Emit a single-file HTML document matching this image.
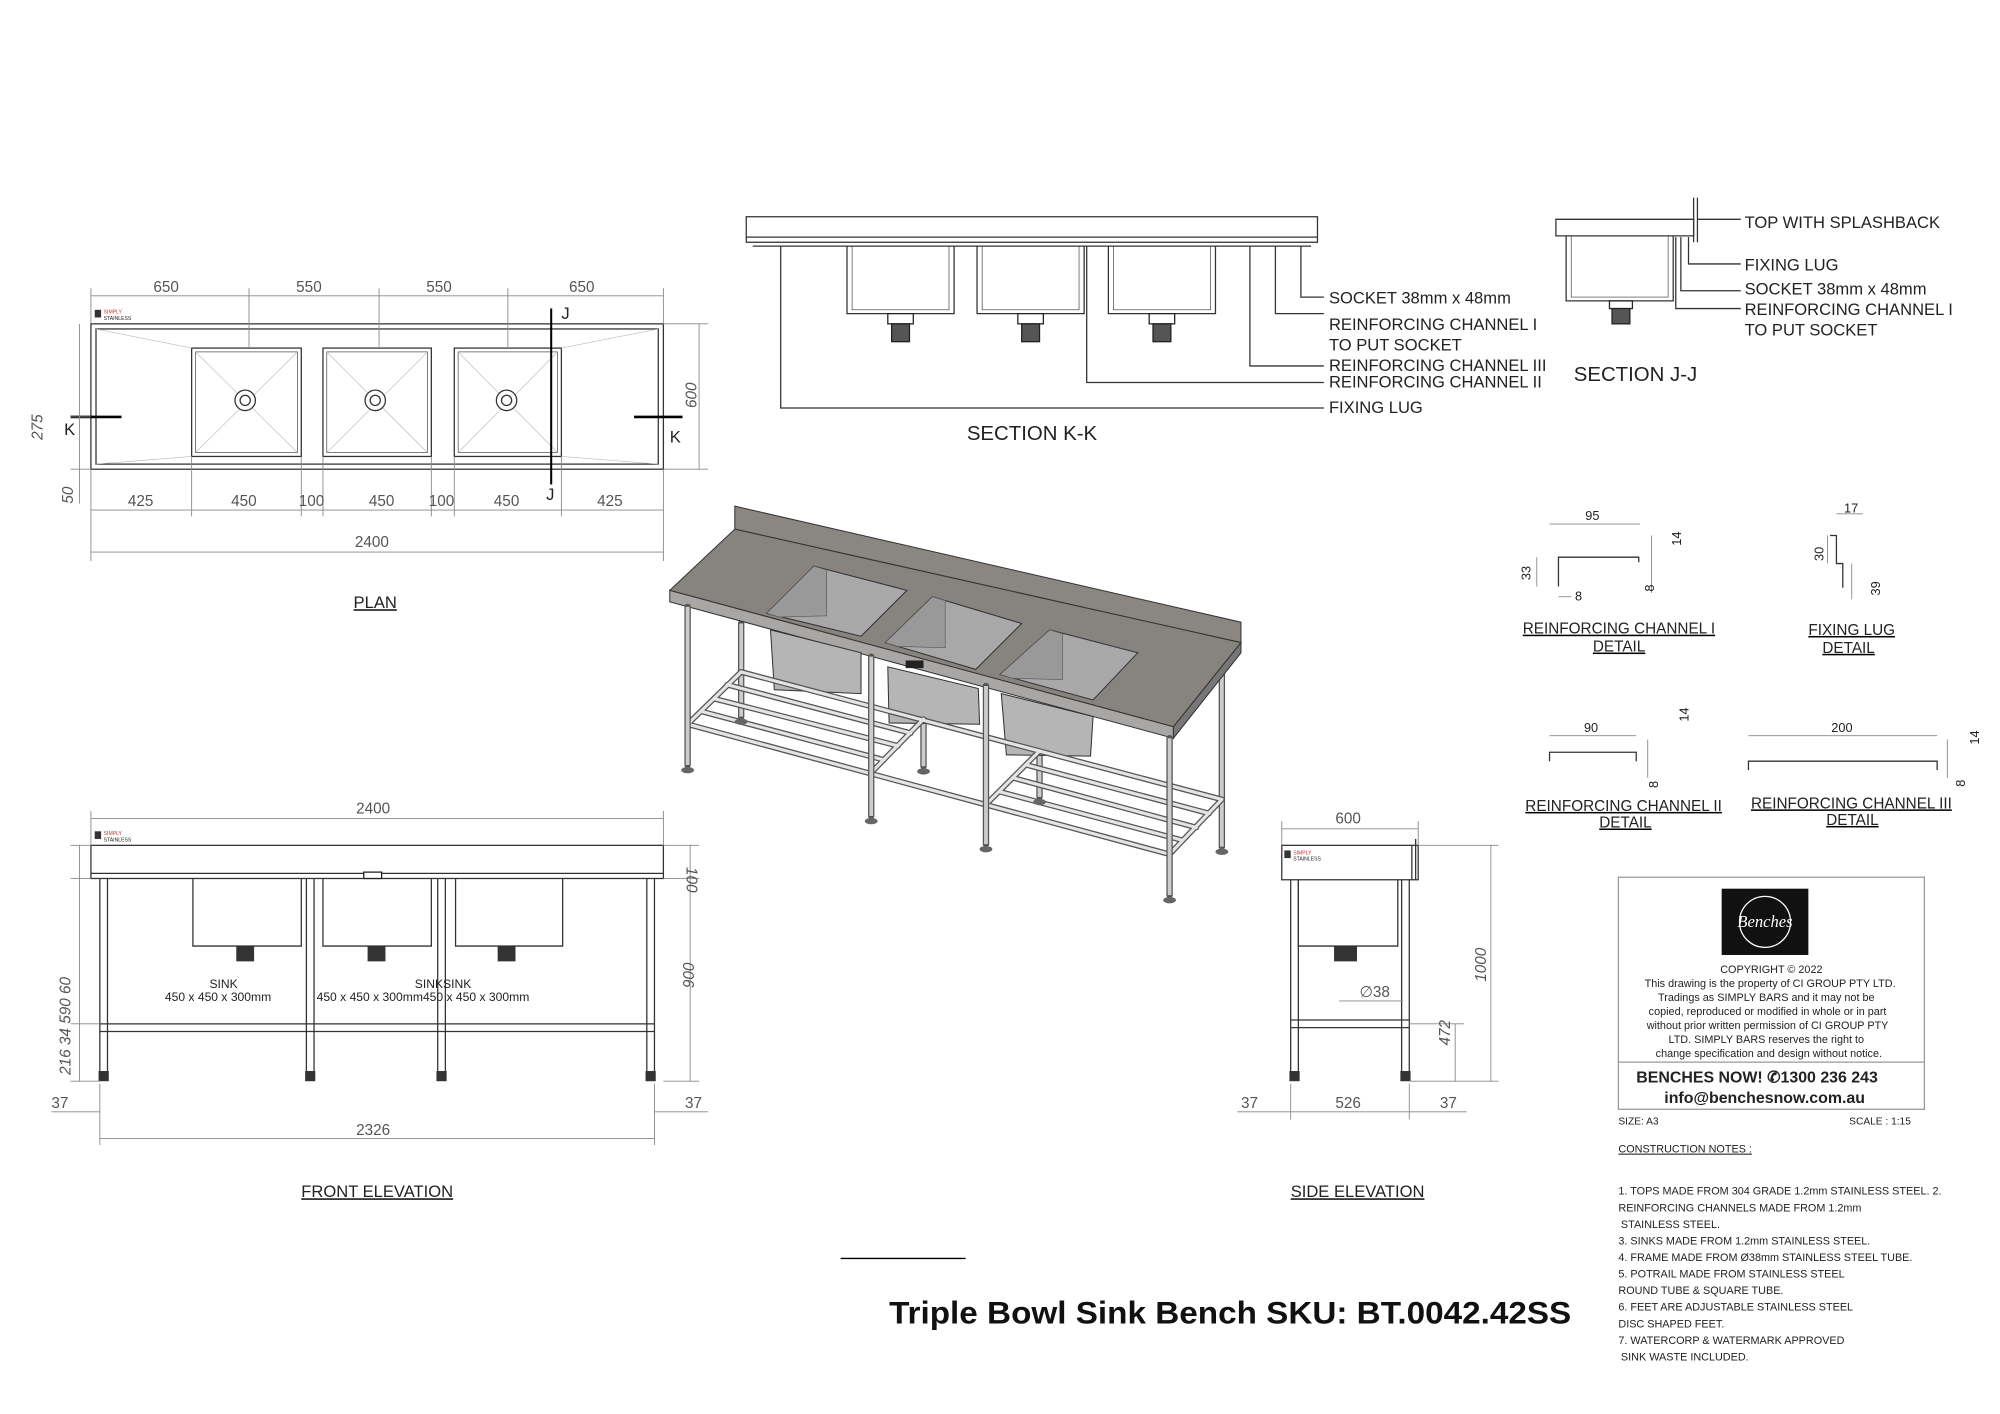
<!DOCTYPE html>
<html><head><meta charset="utf-8"><style>
html,body{margin:0;padding:0;background:#fff;}
svg{display:block;}
text{font-family:"Liberation Sans",sans-serif;fill:#222;}
.d{stroke:#888;stroke-width:0.7;fill:none;}
.k{stroke:#333;stroke-width:1;fill:none;}
.t{font-size:12px;fill:#555;}
.l{font-size:13px;fill:#222;}
.s{font-size:9.5px;fill:#222;}
</style></head><body>
<svg width="2000" height="1414" viewBox="0 0 1568 1109" xmlns="http://www.w3.org/2000/svg">
<rect width="1568" height="1109" fill="#fff"/>

<!-- PLAN -->
<rect x="71" y="254" width="449" height="114" class="k"/>
<rect x="75" y="258" width="441" height="106" class="k" stroke-width="0.6"/>
<g class="k">
<rect x="150" y="273" width="86" height="85"/><rect x="153" y="276" width="80" height="79" stroke-width="0.5"/>
<rect x="253" y="273" width="85" height="85"/><rect x="256" y="276" width="79" height="79" stroke-width="0.5"/>
<rect x="356" y="273" width="84" height="85"/><rect x="359" y="276" width="78" height="79" stroke-width="0.5"/>
</g>
<g stroke="#bbb" stroke-width="0.5">
<line x1="153" y1="276" x2="233" y2="355"/><line x1="233" y1="276" x2="153" y2="355"/>
<line x1="256" y1="276" x2="335" y2="355"/><line x1="335" y1="276" x2="256" y2="355"/>
<line x1="359" y1="276" x2="437" y2="355"/><line x1="437" y1="276" x2="359" y2="355"/>
<line x1="75" y1="258" x2="150" y2="273"/><line x1="75" y1="364" x2="150" y2="358"/>
<line x1="516" y1="258" x2="440" y2="273"/><line x1="516" y1="364" x2="440" y2="358"/>
</g>
<g fill="#fff" stroke="#333"><circle cx="192" cy="314" r="8"/><circle cx="192" cy="314" r="4"/><circle cx="294" cy="314" r="8"/><circle cx="294" cy="314" r="4"/><circle cx="397" cy="314" r="8"/><circle cx="397" cy="314" r="4"/></g>
<rect x="74" y="243" width="5" height="6" fill="#333"/><text x="81" y="246" style="font-size:4px;fill:#c33">SIMPLY</text><text x="81" y="251" style="font-size:4px">STAINLESS</text>
<line x1="55" y1="327" x2="95" y2="327" stroke="#000" stroke-width="2"/><line x1="497" y1="327" x2="535" y2="327" stroke="#000" stroke-width="2"/>
<text x="50" y="341" class="l">K</text><text x="525" y="347" class="l">K</text>
<line x1="432" y1="242" x2="432" y2="380" stroke="#000" stroke-width="1.6"/>
<text x="440" y="250" class="l">J</text><text x="428" y="392" class="l">J</text>
<g class="d">
<line x1="71" y1="232" x2="520" y2="232"/>
<line x1="71" y1="226" x2="71" y2="254"/><line x1="195" y1="226" x2="195" y2="273"/><line x1="297" y1="226" x2="297" y2="273"/><line x1="398" y1="226" x2="398" y2="273"/><line x1="520" y1="226" x2="520" y2="254"/>
<line x1="71" y1="400" x2="520" y2="400"/>
<line x1="71" y1="368" x2="71" y2="440"/><line x1="150" y1="358" x2="150" y2="405"/><line x1="236" y1="358" x2="236" y2="405"/><line x1="253" y1="358" x2="253" y2="405"/><line x1="338" y1="358" x2="338" y2="405"/><line x1="356" y1="358" x2="356" y2="405"/><line x1="440" y1="358" x2="440" y2="405"/><line x1="520" y1="368" x2="520" y2="440"/>
<line x1="71" y1="433" x2="520" y2="433"/>
<line x1="548" y1="254" x2="548" y2="368"/><line x1="520" y1="254" x2="555" y2="254"/><line x1="520" y1="368" x2="555" y2="368"/>
<line x1="62" y1="254" x2="62" y2="395"/><line x1="55" y1="327" x2="71" y2="327"/><line x1="55" y1="368" x2="71" y2="368"/>
</g>
<text x="120" y="229" class="t">650</text><text x="232" y="229" class="t">550</text><text x="334" y="229" class="t">550</text><text x="446" y="229" class="t">650</text>
<text x="100" y="397" class="t">425</text><text x="181" y="397" class="t">450</text><text x="234" y="397" class="t">100</text><text x="289" y="397" class="t">450</text><text x="336" y="397" class="t">100</text><text x="387" y="397" class="t">450</text><text x="468" y="397" class="t">425</text>
<text x="278" y="429" class="t">2400</text>
<text x="546" y="320" class="t" transform="rotate(-90 546 320)" style="font-style:italic">600</text>
<text x="33" y="345" class="t" transform="rotate(-90 33 345)" style="font-style:italic">275</text>
<text x="57" y="395" class="t" transform="rotate(-90 57 395)" style="font-style:italic">50</text>
<text x="277" y="477" class="l" text-decoration="underline">PLAN</text>

<!-- SECTION K-K -->
<rect x="585" y="170" width="448" height="20" class="k"/>
<line x1="585" y1="186" x2="1033" y2="186" class="k" stroke-width="0.5"/>
<line x1="590" y1="193" x2="1028" y2="193" class="k"/>
<g class="k">
<path d="M664 193 V246 H748 V193"/><path d="M668 193 V243 H744 V193" stroke-width="0.5"/>
<path d="M766 193 V246 H850 V193"/><path d="M770 193 V243 H846 V193" stroke-width="0.5"/>
<path d="M869 193 V246 H953 V193"/><path d="M873 193 V243 H949 V193" stroke-width="0.5"/>
</g>
<g fill="#555" stroke="#222"><rect x="696" y="246" width="20" height="8" fill="#fff"/><rect x="699" y="254" width="14" height="14"/><rect x="798" y="246" width="20" height="8" fill="#fff"/><rect x="801" y="254" width="14" height="14"/><rect x="901" y="246" width="20" height="8" fill="#fff"/><rect x="904" y="254" width="14" height="14"/></g>
<g class="k" stroke-width="0.8">
<path d="M612 193 V320 H1038"/><path d="M852 193 V300 H1038"/><path d="M980 193 V287 H1038"/><path d="M1000 193 V246 H1038"/><path d="M1020 193 V233 H1038"/>
</g>
<text x="1042" y="238" class="l">SOCKET 38mm x 48mm</text>
<text x="1042" y="259" class="l">REINFORCING CHANNEL I</text>
<text x="1042" y="275" class="l">TO PUT SOCKET</text>
<text x="1042" y="291" class="l">REINFORCING CHANNEL III</text>
<text x="1042" y="304" class="l">REINFORCING CHANNEL II</text>
<text x="1042" y="324" class="l">FIXING LUG</text>
<text x="758" y="345" style="font-size:16px">SECTION K-K</text>

<!-- SECTION J-J -->
<g class="k">
<path d="M1220 172 H1328 V185 H1220 Z"/><line x1="1328" y1="155" x2="1328" y2="190"/><line x1="1331" y1="155" x2="1331" y2="190"/>
<path d="M1228 185 V236 H1312 V185"/><path d="M1232 185 V233 H1308 V185" stroke-width="0.5"/>
<path d="M1331 172 H1365 M1324 186 V207 H1365 M1318 186 V228 H1365 M1314 186 V242 H1365"/>
</g>
<rect x="1262" y="236" width="18" height="6" fill="#fff" stroke="#222"/><rect x="1264" y="242" width="14" height="12" fill="#555" stroke="#222"/>
<text x="1368" y="179" class="l">TOP WITH SPLASHBACK</text>
<text x="1368" y="212" class="l">FIXING LUG</text>
<text x="1368" y="231" class="l">SOCKET 38mm x 48mm</text>
<text x="1368" y="247" class="l">REINFORCING CHANNEL I</text>
<text x="1368" y="263" class="l">TO PUT SOCKET</text>
<text x="1234" y="299" style="font-size:16px">SECTION J-J</text>

<!-- ISOMETRIC -->
<!-- back legs -->
<g stroke="#555" stroke-width="5" stroke-linecap="round"><line x1="581" y1="489" x2="581" y2="562"/><line x1="724" y1="559" x2="724" y2="601"/><line x1="815" y1="585" x2="815" y2="625"/><line x1="958" y1="528" x2="958" y2="664"/></g>
<g stroke="#ccc" stroke-width="3"><line x1="581" y1="489" x2="581" y2="562"/><line x1="724" y1="559" x2="724" y2="601"/><line x1="815" y1="585" x2="815" y2="625"/><line x1="958" y1="528" x2="958" y2="664"/></g>
<!-- bench -->
<g stroke="#333" stroke-width="0.8">
<polygon points="576,397 973,488 973,504 576,415" fill="#8a8682"/>
<polygon points="525,463 576,415 973,504 920,570" fill="#87837f"/>
<polygon points="525,463 920,570 920,579 525,472" fill="#a9a7a5"/>
<polygon points="920,570 973,504 973,512 920,579" fill="#777"/>
<polygon points="604,494 675,512 675,544 607,541" fill="#b5b5b5"/>
<polygon points="696,523 767,540 768,568 697,567" fill="#b5b5b5"/>
<polygon points="785,544 857,562 855,593 789,592" fill="#b5b5b5"/>
<polygon points="638,444 711,463 675,499 601,481" fill="#a8a8a8"/>
<polygon points="731,468 801,489 765,525 694,504" fill="#a8a8a8"/>
<polygon points="823,494 892,512 857,549 784,529" fill="#a8a8a8"/>
</g>
<g fill="#999" stroke="#555" stroke-width="0.5"><polygon points="638,444 648,447 648,483 611,484 601,481"/><polygon points="731,468 741,471 741,508 704,507 694,504"/><polygon points="823,494 833,497 833,533 794,532 784,529"/></g>
<rect x="710" y="518" width="14" height="6" fill="#222"/>
<!-- shelf tubes -->
<g stroke="#555" stroke-width="4.5" stroke-linecap="round">
<line x1="539" y1="568" x2="917" y2="670"/><line x1="581" y1="527" x2="958" y2="627"/>
<line x1="581" y1="527" x2="539" y2="568"/><line x1="724" y1="564" x2="683" y2="606"/><line x1="815" y1="589" x2="773" y2="631"/><line x1="958" y1="627" x2="917" y2="670"/>
<line x1="570" y1="537" x2="714" y2="575"/><line x1="560" y1="548" x2="704" y2="585"/><line x1="550" y1="558" x2="693" y2="596"/>
<line x1="805" y1="600" x2="948" y2="638"/><line x1="794" y1="610" x2="938" y2="649"/><line x1="784" y1="621" x2="927" y2="659"/>
</g>
<g stroke="#e4e4e4" stroke-width="2.5" stroke-linecap="round">
<line x1="539" y1="568" x2="917" y2="670"/><line x1="581" y1="527" x2="958" y2="627"/>
<line x1="581" y1="527" x2="539" y2="568"/><line x1="724" y1="564" x2="683" y2="606"/><line x1="815" y1="589" x2="773" y2="631"/><line x1="958" y1="627" x2="917" y2="670"/>
<line x1="570" y1="537" x2="714" y2="575"/><line x1="560" y1="548" x2="704" y2="585"/><line x1="550" y1="558" x2="693" y2="596"/>
<line x1="805" y1="600" x2="948" y2="638"/><line x1="794" y1="610" x2="938" y2="649"/><line x1="784" y1="621" x2="927" y2="659"/>
</g>
<!-- front legs -->
<g stroke="#555" stroke-width="5" stroke-linecap="round"><line x1="539" y1="476" x2="539" y2="600"/><line x1="683" y1="515" x2="683" y2="640"/><line x1="773" y1="538" x2="773" y2="662"/><line x1="917" y1="579" x2="917" y2="702"/></g>
<g stroke="#ccc" stroke-width="3"><line x1="539" y1="476" x2="539" y2="600"/><line x1="683" y1="515" x2="683" y2="640"/><line x1="773" y1="538" x2="773" y2="662"/><line x1="917" y1="579" x2="917" y2="702"/></g>
<g fill="#666"><ellipse cx="539" cy="604" rx="5" ry="2.5"/><ellipse cx="683" cy="644" rx="5" ry="2.5"/><ellipse cx="773" cy="666" rx="5" ry="2.5"/><ellipse cx="917" cy="706" rx="5" ry="2.5"/><ellipse cx="581" cy="566" rx="5" ry="2.5"/><ellipse cx="724" cy="605" rx="5" ry="2.5"/><ellipse cx="815" cy="629" rx="5" ry="2.5"/><ellipse cx="958" cy="668" rx="5" ry="2.5"/></g>

<!-- FRONT ELEVATION -->
<rect x="71" y="663" width="449" height="26" class="k"/>
<line x1="71" y1="685" x2="520" y2="685" class="k" stroke-width="0.5"/>
<rect x="74" y="652" width="5" height="6" fill="#333"/><text x="81" y="655" style="font-size:4px;fill:#c33">SIMPLY</text><text x="81" y="660" style="font-size:4px">STAINLESS</text>
<rect x="285" y="684" width="14" height="5" fill="#fff" stroke="#222"/>
<g class="k">
<path d="M151 689 V742 H236 V689"/><path d="M253 689 V742 H338 V689"/><path d="M357 689 V742 H441 V689"/>
<path d="M78 689 V840 M84 689 V840 M240 689 V840 M246 689 V840 M343 689 V840 M349 689 V840 M507 689 V840 M513 689 V840"/>
<path d="M78 803 H513 M78 809 H513"/>
</g>
<g fill="#333"><rect x="185" y="742" width="14" height="12"/><rect x="288" y="742" width="14" height="12"/><rect x="390" y="742" width="14" height="12"/>
<rect x="77" y="840" width="8" height="8"/><rect x="239" y="840" width="8" height="8"/><rect x="342" y="840" width="8" height="8"/><rect x="506" y="840" width="8" height="8"/></g>
<text x="164" y="775" class="s">SINK</text><text x="129" y="785" class="s">450 x 450 x 300mm</text>
<text x="325" y="775" class="s">SINKSINK</text><text x="248" y="785" class="s">450 x 450 x 300mm450 x 450 x 300mm</text>
<g class="d">
<line x1="71" y1="642" x2="520" y2="642"/><line x1="71" y1="636" x2="71" y2="663"/><line x1="520" y1="636" x2="520" y2="663"/>
<line x1="541" y1="663" x2="541" y2="848"/><line x1="520" y1="663" x2="548" y2="663"/><line x1="520" y1="689" x2="548" y2="689"/><line x1="520" y1="848" x2="548" y2="848"/>
<line x1="62" y1="663" x2="62" y2="848"/><line x1="55" y1="663" x2="71" y2="663"/><line x1="55" y1="689" x2="71" y2="689"/><line x1="55" y1="803" x2="78" y2="803"/><line x1="55" y1="848" x2="78" y2="848"/>
<line x1="78" y1="850" x2="78" y2="898"/><line x1="513" y1="850" x2="513" y2="898"/><line x1="78" y1="893" x2="513" y2="893"/>
<line x1="40" y1="872" x2="78" y2="872"/><line x1="513" y1="872" x2="555" y2="872"/>
</g>
<text x="279" y="638" class="t">2400</text><text x="279" y="890" class="t">2326</text>
<text x="40" y="869" class="t">37</text><text x="537" y="869" class="t">37</text>
<text x="538" y="680" class="t" transform="rotate(90 538 680)" style="font-style:italic">100</text>
<text x="544" y="775" class="t" transform="rotate(-90 544 775)" style="font-style:italic">900</text>
<text x="55" y="843" class="t" transform="rotate(-90 55 843)" style="font-style:italic">216 34 590 60</text>
<text x="236" y="939" class="l" text-decoration="underline">FRONT ELEVATION</text>

<!-- SIDE ELEVATION -->
<rect x="1005" y="663" width="107" height="27" class="k"/><line x1="1107" y1="663" x2="1107" y2="690" class="k"/>
<line x1="1110" y1="658" x2="1110" y2="690" class="k"/>
<rect x="1007" y="667" width="5" height="6" fill="#333"/><text x="1014" y="670" style="font-size:4px;fill:#c33">SIMPLY</text><text x="1014" y="675" style="font-size:4px">STAINLESS</text>
<g class="k">
<path d="M1018 690 V742 H1096 V690"/>
<path d="M1012 690 V840 M1018 690 V840 M1099 690 V840 M1105 690 V840 M1012 800 H1105 M1012 806 H1105"/>
</g>
<rect x="1046" y="742" width="18" height="12" fill="#333"/>
<rect x="1011" y="840" width="8" height="8" fill="#333"/><rect x="1098" y="840" width="8" height="8" fill="#333"/>
<g class="d">
<line x1="1005" y1="650" x2="1112" y2="650"/><line x1="1005" y1="644" x2="1005" y2="663"/><line x1="1112" y1="644" x2="1112" y2="663"/>
<line x1="1169" y1="663" x2="1169" y2="848"/><line x1="1112" y1="663" x2="1175" y2="663"/><line x1="1105" y1="848" x2="1175" y2="848"/>
<line x1="1141" y1="803" x2="1141" y2="848"/><line x1="1105" y1="803" x2="1148" y2="803"/>
<line x1="1012" y1="850" x2="1012" y2="878"/><line x1="1105" y1="850" x2="1105" y2="878"/><line x1="970" y1="872" x2="1150" y2="872"/>
<line x1="1050" y1="785" x2="1100" y2="785"/>
</g>
<text x="1047" y="646" class="t">600</text><text x="1047" y="869" class="t">526</text><text x="973" y="869" class="t">37</text><text x="1129" y="869" class="t">37</text>
<text x="1066" y="782" class="t">∅38</text>
<text x="1165" y="770" class="t" transform="rotate(-90 1165 770)" style="font-style:italic">1000</text>
<text x="1137" y="820" class="t" transform="rotate(-90 1137 820)" style="font-style:italic">472</text>
<text x="1012" y="939" class="l" text-decoration="underline">SIDE ELEVATION</text>

<!-- DETAILS -->
<g class="k" stroke-width="1.2">
<path d="M1222 460 V437 H1285 V441"/>
<path d="M1435 420 H1440 V442 H1445 V461"/>
<path d="M1215 597 V590 H1283 V597"/>
<path d="M1371 604 V597 H1519 V604"/>
</g>
<g class="d">
<line x1="1215" y1="411" x2="1286" y2="411"/><line x1="1205" y1="437" x2="1205" y2="460"/><line x1="1222" y1="468" x2="1232" y2="468"/>
<line x1="1295" y1="420" x2="1295" y2="465"/><line x1="1440" y1="403" x2="1461" y2="403"/><line x1="1433" y1="420" x2="1433" y2="442"/><line x1="1452" y1="442" x2="1452" y2="470"/>
<line x1="1215" y1="577" x2="1283" y2="577"/><line x1="1292" y1="580" x2="1292" y2="610"/>
<line x1="1371" y1="577" x2="1519" y2="577"/><line x1="1527" y1="580" x2="1527" y2="610"/>
</g>
<g style="font-size:10px;fill:#555;font-family:'Liberation Sans'">
<text x="1243" y="408">95</text><text x="1235" y="471">8</text>
<text x="1200" y="455" transform="rotate(-90 1200 455)">33</text>
<text x="1318" y="428" transform="rotate(-90 1318 428)">14</text>
<text x="1297" y="464" transform="rotate(-90 1297 464)">8</text>
<text x="1446" y="402">17</text>
<text x="1430" y="440" transform="rotate(-90 1430 440)">30</text>
<text x="1474" y="467" transform="rotate(-90 1474 467)">39</text>
<text x="1242" y="574">90</text><text x="1436" y="574">200</text>
<text x="1324" y="566" transform="rotate(-90 1324 566)">14</text><text x="1300" y="618" transform="rotate(-90 1300 618)">8</text>
<text x="1552" y="584" transform="rotate(-90 1552 584)">14</text><text x="1541" y="617" transform="rotate(-90 1541 617)">8</text>
</g>
<g style="font-size:12px" text-decoration="underline">
<text x="1194" y="497">REINFORCING CHANNEL I</text><text x="1249" y="511">DETAIL</text>
<text x="1418" y="498">FIXING LUG</text><text x="1429" y="512">DETAIL</text>
<text x="1196" y="636">REINFORCING CHANNEL II</text><text x="1254" y="649">DETAIL</text>
<text x="1373" y="634">REINFORCING CHANNEL III</text><text x="1432" y="647">DETAIL</text>
</g>

<!-- TITLE BLOCK -->
<rect x="1269" y="688" width="240" height="182" fill="none" stroke="#999"/>
<line x1="1269" y1="833" x2="1509" y2="833" stroke="#999"/>
<rect x="1350" y="697" width="68" height="52" fill="#111"/>
<circle cx="1384" cy="723" r="20" fill="none" stroke="#fff" stroke-width="1"/>
<text x="1384" y="727" text-anchor="middle" style="font-size:13px;fill:#fff;font-style:italic;font-family:'Liberation Serif'">Benches</text>
<g style="font-size:8.5px" text-anchor="middle">
<text x="1389" y="763">COPYRIGHT © 2022</text>
<text x="1388" y="774">This drawing is the property of CI GROUP PTY LTD.</text>
<text x="1385" y="785">Tradings as SIMPLY BARS and it may not be</text>
<text x="1386" y="796">copied, reproduced or modified in whole or in part</text>
<text x="1386" y="807">without prior written permission of CI GROUP PTY</text>
<text x="1385" y="818">LTD. SIMPLY BARS reserves the right to</text>
<text x="1387" y="829">change specification and design without notice.</text>
</g>
<text x="1283" y="849" style="font-size:12.5px;font-weight:bold">BENCHES NOW!  ✆1300 236 243</text>
<text x="1305" y="865" style="font-size:12.5px;font-weight:bold">info@benchesnow.com.au</text>
<text x="1269" y="882" style="font-size:8px">SIZE: A3</text><text x="1450" y="882" style="font-size:8px">SCALE : 1:15</text>
<g style="font-size:8.5px">
<text x="1269" y="904" text-decoration="underline">CONSTRUCTION NOTES :</text>
<text x="1269" y="937">1. TOPS MADE FROM 304 GRADE 1.2mm STAINLESS STEEL. 2.</text>
<text x="1269" y="950">REINFORCING CHANNELS MADE FROM 1.2mm</text>
<text x="1271" y="963">STAINLESS STEEL.</text>
<text x="1269" y="976">3. SINKS MADE FROM 1.2mm STAINLESS STEEL.</text>
<text x="1269" y="989">4. FRAME MADE FROM Ø38mm STAINLESS STEEL TUBE.</text>
<text x="1269" y="1002">5. POTRAIL MADE FROM STAINLESS STEEL</text>
<text x="1269" y="1015">ROUND TUBE &amp; SQUARE TUBE.</text>
<text x="1269" y="1028">6. FEET ARE ADJUSTABLE STAINLESS STEEL</text>
<text x="1269" y="1041">DISC SHAPED FEET.</text>
<text x="1269" y="1054">7. WATERCORP &amp; WATERMARK APPROVED</text>
<text x="1271" y="1067">SINK WASTE INCLUDED.</text>
</g>
<line x1="659" y1="987" x2="757" y2="987" stroke="#000" stroke-width="1"/>
<text x="697" y="1038" textLength="535" lengthAdjust="spacingAndGlyphs" style="font-size:25px;font-weight:bold;fill:#111">Triple Bowl Sink Bench SKU: BT.0042.42SS</text>
</svg>
</body></html>
